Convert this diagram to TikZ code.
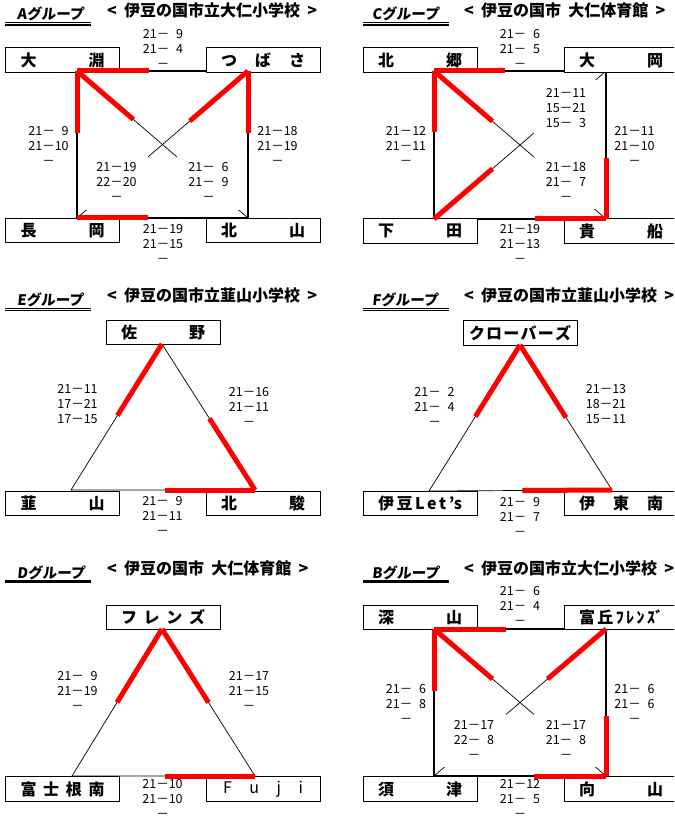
\documentclass[tikz,border=0pt]{standalone}
\usepackage{fontspec}
\setmainfont{Noto Sans CJK JP}
\newfontfamily\grpfont{Noto Sans CJK JP}[FakeSlant=0.1]
\usetikzlibrary{calc}
\newcommand{\nd}{\phantom{0}}
\newcommand{\gap}{\hspace{0.45em}}
\begin{document}
\begin{tikzpicture}[x = 1pt, y = -1pt,
	team/.style = {draw, line width=0.9pt, fill=white, minimum width=114pt, minimum height=24.5pt, inner sep=0pt, font=\fontsize{16}{16}\selectfont\bfseries},
	score/.style = {align=center, inner sep=0pt, font=\fontsize{12.5}{15}\selectfont},
	mask/.style = {score, fill=white, inner xsep=11.5pt, inner ysep=8pt},
	court/.style = {line width=1.6pt},
	cross/.style = {line width=0.7pt},
	win/.style = {red, line width=5pt},
	grp/.style = {anchor=base west, inner sep=0pt, font=\grpfont\fontsize{14.5}{14.5}\selectfont\bfseries},
	venue/.style = {anchor=base west, inner sep=0pt, font=\fontsize{16}{16}\selectfont\bfseries},
	dline/.style = {line width=1.3pt, double, double distance=1pt},
	sline/.style = {line width=3pt}]
	\useasboundingbox (0, 0) rectangle (674, 818);
	\clip (0, 0) rectangle (674, 818);
	\fill[white] (0, 0) rectangle (674, 818);

	% Headings
	\node[grp] (gA) at (17, 20) {Aグループ};
	\node[venue] (vA) at (107, 16.5) {<\gap 伊豆の国市立大仁小学校\gap >};
	\node[grp] (gC) at (372, 20) {Cグループ};
	\node[venue] (vC) at (464, 16.5) {<\gap 伊豆の国市\gap 大仁体育館\gap >};
	\node[grp] (gE) at (17, 305) {Eグループ};
	\node[venue] (vE) at (107, 301.5) {<\gap 伊豆の国市立韮山小学校\gap >};
	\node[grp] (gF) at (372, 305) {Fグループ};
	\node[venue] (vF) at (464, 301.5) {<\gap 伊豆の国市立韮山小学校\gap >};
	\node[grp] (gD) at (17, 578.5) {Dグループ};
	\node[venue] (vD) at (107, 574.5) {<\gap 伊豆の国市\gap 大仁体育館\gap >};
	\node[grp] (gB) at (372, 578.5) {Bグループ};
	\node[venue] (vB) at (464, 574.5) {<\gap 伊豆の国市立大仁小学校\gap >};
	\draw[dline] (5, 23.85) -- (91, 23.85);
	\draw[dline] (363, 23.85) -- (449, 23.85);
	\draw[dline] (5, 309.5) -- (91, 309.5);
	\draw[dline] (363, 309.5) -- (449, 309.5);
	\draw[sline] (5, 581.8) -- (91, 581.8);
	\draw[sline] (363, 581.8) -- (449, 581.8);

	% Corners
	\coordinate (a1) at (77, 71);
	\coordinate (a2) at (248, 71);
	\coordinate (a3) at (77, 218);
	\coordinate (a4) at (248, 218);
	\coordinate (c1) at (434, 71);
	\coordinate (c2) at (606, 71);
	\coordinate (c3) at (434, 219);
	\coordinate (c4) at (606, 219);
	\coordinate (b1) at (434, 629);
	\coordinate (b2) at (606, 629);
	\coordinate (b3) at (434, 776);
	\coordinate (b4) at (606, 776);
	\coordinate (e1) at (162, 344);
	\coordinate (e2) at (71, 490);
	\coordinate (e3) at (255, 490);
	\coordinate (f1) at (520, 345);
	\coordinate (f2) at (429, 491);
	\coordinate (f3) at (612, 490);
	\coordinate (d1) at (162, 629);
	\coordinate (d2) at (72, 776);
	\coordinate (d3) at (255, 776);

	% Courts
	\draw[court] (a1) -- (a2) -- (a4) -- (a3) -- cycle;
	\draw[cross] (a1) -- (a4);
	\draw[cross] (a2) -- (a3);
	\draw[court] (c1) -- (c2) -- (c4) -- (c3) -- cycle;
	\draw[cross] (c1) -- (c4);
	\draw[cross] (c3) -- (c2);
	\draw[court] (b1) -- (b2) -- (b4) -- (b3) -- cycle;
	\draw[cross] (b1) -- (b4);
	\draw[cross] (b2) -- (b3);
	\draw[cross] (e1) -- (e2) -- (e3) -- cycle;
	\draw[cross] (f1) -- (f2) -- (f3) -- cycle;
	\draw[cross] (d1) -- (d2) -- (d3) -- cycle;

	% Teams
	\node[team] (obuchi) at (62.5, 60) {\makebox[84pt][s]{大\hfil 淵}};
	\node[team] (tsubasa) at (263, 60) {\makebox[84pt][s]{つ\hfil ば\hfil さ}};
	\node[team] (nagaoka) at (62.5, 230.5) {\makebox[84pt][s]{長\hfil 岡}};
	\node[team] (kitayama) at (263, 230.5) {\makebox[84pt][s]{北\hfil 山}};
	\node[team] (kitago) at (420, 60) {\makebox[84pt][s]{北\hfil 郷}};
	\node[team] (ooka) at (621, 60) {\makebox[84pt][s]{大\hfil 岡}};
	\node[team] (shimoda) at (420, 231) {\makebox[84pt][s]{下\hfil 田}};
	\node[team] (kibune) at (621, 231) {\makebox[84pt][s]{貴\hfil 船}};
	\node[team] (sano) at (163, 332.5) {\makebox[84pt][s]{佐\hfil 野}};
	\node[team] (nirayama) at (62.5, 503.5) {\makebox[84pt][s]{韮\hfil 山}};
	\node[team] (hokushun) at (263, 503.5) {\makebox[84pt][s]{北\hfil 駿}};
	\node[team] (clovers) at (520, 333) {\makebox[102pt][s]{ク\hfil ロ\hfil ー\hfil バ\hfil ー\hfil ズ}};
	\node[team] (izulets) at (420, 503.5) {\makebox[84pt][s]{伊\hfil 豆\hfil L\hfil e\hfil t\hfil 's}};
	\node[team] (itonan) at (621, 503.5) {\makebox[84pt][s]{伊\hfil 東\hfil 南}};
	\node[team] (friends) at (163, 617.5) {\makebox[84pt][s]{フ\hfil レ\hfil ン\hfil ズ}};
	\node[team] (fujinenan) at (62.5, 789) {\makebox[84pt][s]{富\hfil 士\hfil 根\hfil 南}};
	\node[team, font=\fontsize{16}{16}\selectfont] (fuji) at (263, 789) {\makebox[80pt][s]{F\hfil u\hfil j\hfil i}};
	\node[team] (fukayama) at (420, 617.5) {\makebox[84pt][s]{深\hfil 山}};
	\node[team] (tomioka) at (621, 617.5) {\makebox[84pt][s]{富\hfil 丘\hfil ﾌ\hfil ﾚ\hfil ﾝ\hfil ｽﾞ}};
	\node[team] (sudo) at (420, 789) {\makebox[84pt][s]{須\hfil 津}};
	\node[team] (mukaiyama) at (621, 789) {\makebox[84pt][s]{向\hfil 山}};

	% Wins
	\draw[win] (a1) -- ($(a1)!0.42!(a2)$);
	\draw[win] (a1) -- ($(a1)!0.42!(a3)$);
	\draw[win] (a1) -- ($(a1)!0.33!(a4)$);
	\draw[win] (a2) -- ($(a2)!0.34!(a3)$);
	\draw[win] (a2) -- ($(a2)!0.42!(a4)$);
	\draw[win] (a3) -- ($(a3)!0.415!(a4)$);
	\draw[win] (c1) -- ($(c1)!0.41!(c2)$);
	\draw[win] (c1) -- ($(c1)!0.41!(c3)$);
	\draw[win] (c1) -- ($(c1)!0.34!(c4)$);
	\draw[win] (c3) -- ($(c3)!0.34!(c2)$);
	\draw[win] (c4) -- ($(c4)!0.41!(c2)$);
	\draw[win] (c4) -- ($(c4)!0.41!(c3)$);
	\draw[win] (b1) -- ($(b1)!0.42!(b2)$);
	\draw[win] (b1) -- ($(b1)!0.42!(b3)$);
	\draw[win] (b1) -- ($(b1)!0.34!(b4)$);
	\draw[win] (b2) -- ($(b2)!0.34!(b3)$);
	\draw[win] (b4) -- ($(b4)!0.41!(b2)$);
	\draw[win] (b4) -- ($(b4)!0.42!(b3)$);
	\draw[win] (e1) -- ($(e1)!0.49!(e2)$);
	\draw[win] (e3) -- ($(e3)!0.49!(e1)$);
	\draw[win] (e3) -- ($(e3)!0.49!(e2)$);
	\draw[win] (f1) -- ($(f1)!0.49!(f2)$);
	\draw[win] (f1) -- ($(f1)!0.5!(f3)$);
	\draw[win] (f3) -- ($(f3)!0.49!(f2)$);
	\draw[win] (d1) -- ($(d1)!0.5!(d2)$);
	\draw[win] (d1) -- ($(d1)!0.5!(d3)$);
	\draw[win] (d3) -- ($(d3)!0.49!(d2)$);

	% Scores
	\node[score] (sA12) at (163, 48.5) {21－\nd9\\21－\nd4\\－};
	\node[score] (sA13) at (48.5, 145.5) {21－\nd9\\21－10\\－};
	\node[score] (sA24) at (277.5, 145.5) {21－18\\21－19\\－};
	\node[mask] (sA23) at (116.5, 182.2) {21－19\\22－20\\－};
	\node[mask] (sA14) at (208.5, 182.2) {21－\nd6\\21－\nd9\\－};
	\node[score] (sA34) at (163, 243.5) {21－19\\21－15\\－};
	\node[score] (sC12) at (520, 48.5) {21－\nd6\\21－\nd5\\－};
	\node[score] (sC13) at (406, 145.5) {21－12\\21－11\\－};
	\node[score] (sC24) at (634.5, 145.5) {21－11\\21－10\\－};
	\node[mask] (sC32) at (566, 107.8) {21－11\\15－21\\15－\nd3};
	\node[mask] (sC14) at (566, 181.8) {21－18\\21－\nd7\\－};
	\node[score] (sC34) at (520, 243.5) {21－19\\21－13\\－};
	\node[score] (sE12) at (77.5, 404.5) {21－11\\17－21\\17－15};
	\node[score] (sE13) at (249, 406.5) {21－16\\21－11\\－};
	\node[score] (sE23) at (162.5, 516.2) {21－\nd9\\21－11\\－};
	\node[score] (sF12) at (434.5, 406.5) {21－\nd2\\21－\nd4\\－};
	\node[score] (sF13) at (606, 404.5) {21－13\\18－21\\15－11};
	\node[score] (sF23) at (520, 516.5) {21－\nd9\\21－\nd7\\－};
	\node[score] (sD12) at (77.5, 691.2) {21－\nd9\\21－19\\－};
	\node[score] (sD13) at (249, 691.2) {21－17\\21－15\\－};
	\node[score] (sD23) at (162.5, 798.5) {21－10\\21－10\\－};
	\node[score] (sB12) at (520, 606.2) {21－\nd6\\21－\nd4\\－};
	\node[score] (sB13) at (406, 703.8) {21－\nd6\\21－\nd8\\－};
	\node[score] (sB24) at (634.5, 703.8) {21－\nd6\\21－\nd6\\－};
	\node[mask] (sB23) at (474, 739.5) {21－17\\22－\nd8\\－};
	\node[mask] (sB14) at (566, 739.5) {21－17\\21－\nd8\\－};
	\node[score] (sB34) at (520, 798.5) {21－12\\21－\nd5\\－};
\end{tikzpicture}
\end{document}
